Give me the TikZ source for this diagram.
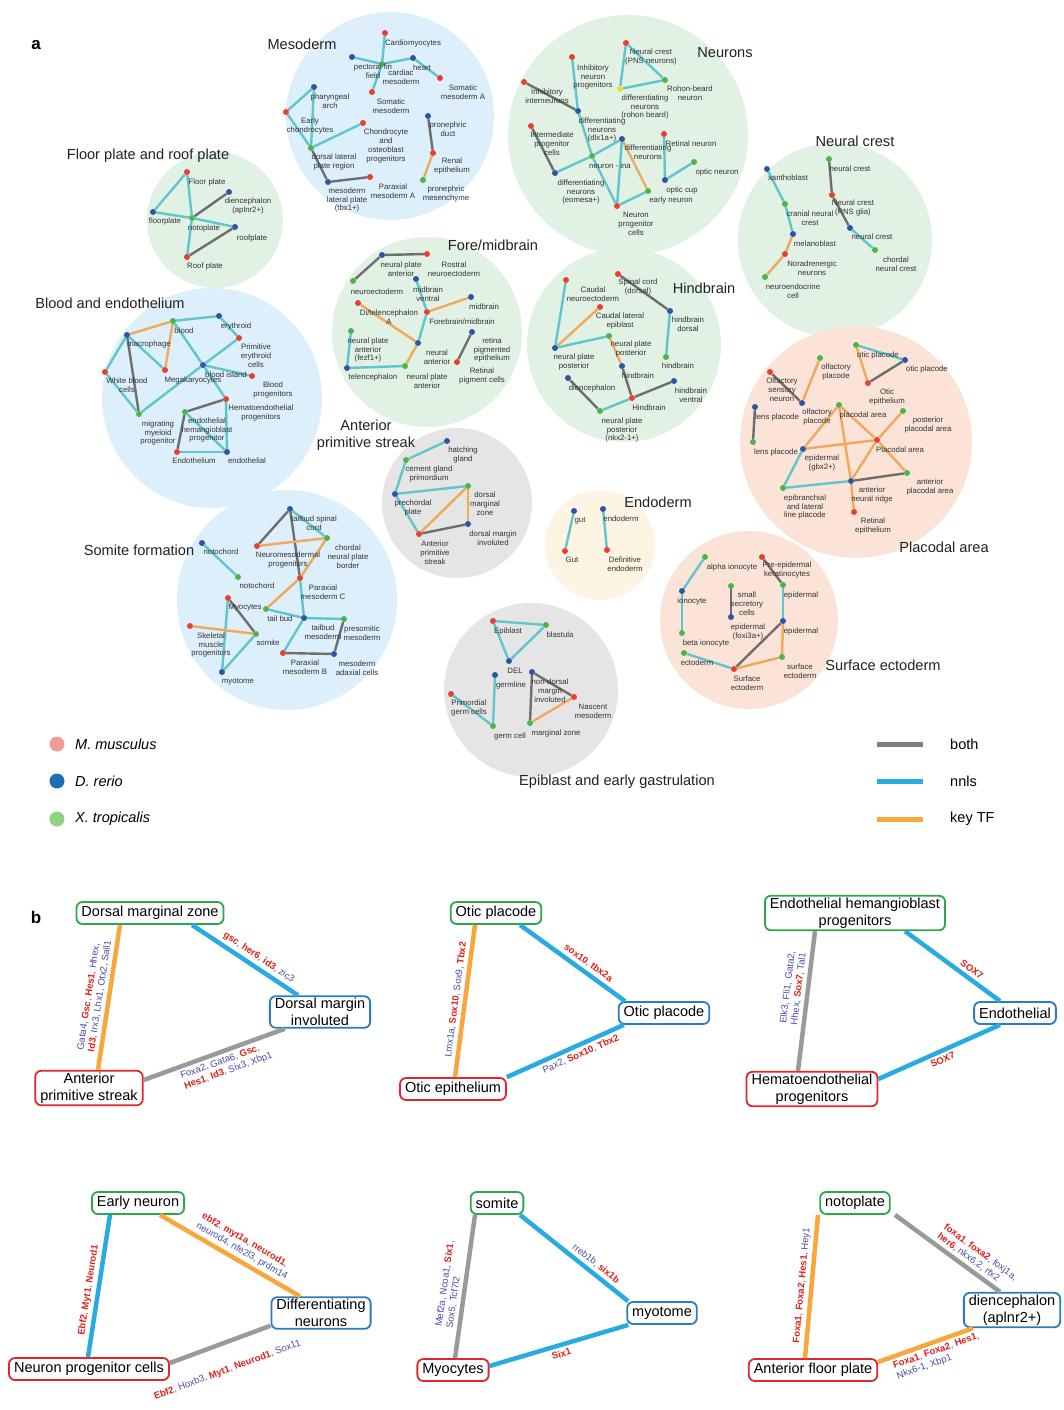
\documentclass[tikz,border=0pt]{standalone}
\usepackage{fontspec}
\setmainfont{Liberation Sans}
\pgfdeclarelayer{bgl}\pgfdeclarelayer{circ}\pgfdeclarelayer{edges}
\pgfsetlayers{bgl,circ,edges,main}
\definecolor{cR}{HTML}{E8402F}
\definecolor{cB}{HTML}{2F54A3}
\definecolor{cG}{HTML}{4DB44A}
\definecolor{cY}{HTML}{E6E02A}
\definecolor{eTe}{HTML}{5EC6CC}
\definecolor{eGr}{HTML}{6E6E6E}
\definecolor{eOr}{HTML}{F0A95A}
\definecolor{bgBlue}{HTML}{DDEFFA}
\definecolor{bgGreen}{HTML}{E1F1E4}
\definecolor{bgGrey}{HTML}{E5E5E5}
\definecolor{bgPeach}{HTML}{FBE3D8}
\definecolor{bgCream}{HTML}{FEF4E3}
\definecolor{labc}{HTML}{333333}
\definecolor{ttlc}{HTML}{222222}
\definecolor{lgBoth}{HTML}{808080}
\definecolor{lgNnls}{HTML}{29ABE2}
\definecolor{lgKey}{HTML}{F7A73C}
\definecolor{lgMm}{HTML}{F29B9B}
\definecolor{lgDr}{HTML}{1F6FB4}
\definecolor{lgXt}{HTML}{90D283}
\definecolor{bxG}{HTML}{2BA84A}
\definecolor{bxB}{HTML}{2B7BBF}
\definecolor{bxR}{HTML}{E4262B}
\definecolor{tBlue}{HTML}{4B4BA8}
\definecolor{tRed}{HTML}{E0201A}
\definecolor{lnGrey}{HTML}{9A9A9A}
\newcommand\mkdot[3]{\node[#2] (#1) at (#3) {};}
\newcommand\mklab[3]{\node[lab] (#1) at (#2) {#3};}
\newcommand\mkedge[3]{\draw[#1] (#2) -- (#3);}
\newcommand\ktf[1]{\textcolor{tRed}{\textbf{#1}}}
\tikzset{
 dotn/.style={circle,inner sep=0pt,minimum size=6pt,draw=none},
 rd/.style={dotn,fill=cR}, bd/.style={dotn,fill=cB}, gd/.style={dotn,fill=cG}, yd/.style={dotn,fill=cY},
 lab/.style={font=\fontsize{7.8}{8.8}\selectfont, align=center, inner sep=0pt, text=labc},
 ttl/.style={font=\fontsize{14.6}{17}\selectfont, inner sep=0pt, text=ttlc, align=center},
 ete/.style={draw=eTe, line width=2.4pt},
 egr/.style={draw=eGr, line width=2.4pt},
 eor/.style={draw=eOr, line width=2.4pt},
 bbox/.style={draw, rounded corners=6pt, line width=1.8pt, fill=white, inner xsep=5pt, inner ysep=2pt, minimum height=22pt, align=center, font=\fontsize{14.5}{17}\selectfont, text=black},
 gbox/.style={bbox, draw=bxG}, blbox/.style={bbox, draw=bxB}, rbox/.style={bbox, draw=bxR},
 blte/.style={draw=lgNnls, line width=4.5pt},
 blgr/.style={draw=lnGrey, line width=4.5pt},
 blor/.style={draw=lgKey, line width=4.5pt},
 elab/.style={font=\fontsize{9.5}{11}\selectfont, text=tBlue, inner sep=3pt, sloped},
 legl/.style={line width=5pt}
}
\begin{document}
\begin{tikzpicture}[x=1pt,y=-1pt]
\useasboundingbox (0,0) rectangle (1064,1410);
\begin{pgfonlayer}{bgl}
\fill[white] (0,0) rectangle (1064,1410);
\end{pgfonlayer}
% ---------------- bubbles
\begin{pgfonlayer}{circ}
\fill[bgBlue] (390,116) circle (104);
\fill[bgGreen] (628,135) circle (120);
\fill[bgGreen] (835,240) circle (97);
\fill[bgGreen] (215,220) circle (68);
\fill[bgGreen] (427,332) circle (95);
\fill[bgGreen] (624,345) circle (97);
\fill[bgBlue] (212,398) circle (110);
\fill[bgPeach] (856,442) circle (116);
\fill[bgGrey] (457,503) circle (75);
\fill[bgCream] (600,545) circle (55);
\fill[bgBlue] (287,600) circle (110);
\fill[bgPeach] (749,620) circle (89);
\fill[bgGrey] (531,690) circle (87);
\end{pgfonlayer}
% ---------------- titles
\node[font=\bfseries\fontsize{17}{20}\selectfont, inner sep=0pt] (pa) at (36,45) {a};
\node[ttl] (tMeso) at (302,44) {Mesoderm};
\node[ttl] (tNeur) at (725,53) {Neurons};
\node[ttl] (tNC) at (855,141) {Neural crest};
\node[ttl] (tFP) at (148,156) {Floor plate and roof plate};
\node[ttl] (tFM) at (493,245) {Fore/midbrain};
\node[ttl] (tHB) at (704,288) {Hindbrain};
\node[ttl] (tBE) at (110,303) {Blood and endothelium};
\node[ttl] (tAPS) at (366,435) {Anterior\\primitive streak};
\node[ttl] (tEn) at (658,502) {Endoderm};
\node[ttl] (tPl) at (944,547) {Placodal area};
\node[ttl] (tSo) at (139,550) {Somite formation};
\node[ttl] (tSE) at (883,665) {Surface ectoderm};
\node[ttl] (tEp) at (617,782) {Epiblast and early gastrulation};
% ---------------- Mesoderm
\mkdot{M1}{rd}{385,33} \mkdot{M2}{bd}{352,57} \mkdot{M3}{gd}{382,64} \mkdot{M4}{bd}{413,58}
\mkdot{M5}{rd}{440,78} \mkdot{M6}{rd}{372,92} \mkdot{M7}{bd}{314,87} \mkdot{M8}{rd}{286,112}
\mkdot{M9}{gd}{311,148} \mkdot{M10}{rd}{363,123} \mkdot{M11}{bd}{328,182} \mkdot{M12}{rd}{370,177}
\mkdot{M13}{bd}{428,116} \mkdot{M14}{rd}{433,153} \mkdot{M15}{gd}{423,180}
\mklab{lM1}{413,43}{Cardiomyocytes}
\mklab{lM2}{373,71}{pectoral fin\\field}
\mklab{lM3}{401,77}{cardiac\\mesoderm}
\mklab{lM4}{422,68}{heart}
\mklab{lM5}{463,92}{Somatic\\mesoderm A}
\mklab{lM6}{391,106}{Somatic\\mesoderm}
\mklab{lM7}{330,101}{pharyngeal\\arch}
\mklab{lM8}{310,126}{Early\\chondrocytes}
\mklab{lM9}{334,162}{dorsal lateral\\plate region}
\mklab{lM10}{386,146}{Chondrocyte\\and\\osteoblast\\progenitors}
\mklab{lM11}{347,200}{mesoderm\\lateral plate\\(tbx1+)}
\mklab{lM12}{393,191}{Paraxial\\mesoderm A}
\mklab{lM13}{448,129}{pronephric\\duct}
\mklab{lM14}{452,166}{Renal\\epithelium}
\mklab{lM15}{446,194}{pronephric\\mesenchyme}
% ---------------- Neurons
\mkdot{N1}{rd}{626,43} \mkdot{N2}{gd}{665,80} \mkdot{N3}{yd}{620,89} \mkdot{N4}{rd}{572,57}
\mkdot{N5}{rd}{524,82} \mkdot{N6}{bd}{578,111} \mkdot{N7}{rd}{531,126} \mkdot{N8}{gd}{592,156}
\mkdot{N9}{bd}{622,139} \mkdot{N10}{bd}{555,173} \mkdot{N11}{rd}{617,206} \mkdot{N12}{gd}{648,191}
\mkdot{N13}{rd}{664,134} \mkdot{N14}{bd}{665,180} \mkdot{N15}{gd}{694,162}
\mklab{lN1}{651,57}{Neural crest\\(PNS neurons)}
\mklab{lN2}{690,93}{Rohon-beard\\neuron}
\mklab{lN3}{645,107}{differentiating\\neurons\\(rohon beard)}
\mklab{lN4}{593,77}{Inhibitory\\neuron\\progenitors}
\mklab{lN5}{547,96}{Inhibitory\\interneurons}
\mklab{lN6}{602,130}{differentiating\\neurons\\(dlx1a+)}
\mklab{lN7}{552,144}{Intermediate\\progenitor\\cells}
\mklab{lN8}{610,166}{neuron - ina}
\mklab{lN9}{648,152}{differentiating\\neurons}
\mklab{lN10}{581,192}{differentiating\\neurons\\(eomesa+)}
\mklab{lN11}{636,224}{Neuron\\progenitor\\cells}
\mklab{lN12}{671,200}{early neuron}
\mklab{lN13}{691,144}{Retinal neuron}
\mklab{lN14}{682,190}{optic cup}
\mklab{lN15}{717,172}{optic neuron}
% ---------------- Neural crest
\mkdot{C1}{gd}{829,159} \mkdot{C2}{rd}{832,195} \mkdot{C3}{bd}{850,228} \mkdot{C4}{gd}{875,250}
\mkdot{C5}{bd}{767,169} \mkdot{C6}{gd}{785,204} \mkdot{C7}{bd}{793,234} \mkdot{C8}{rd}{785,254}
\mkdot{C9}{gd}{765,277}
\mklab{lC1}{850,169}{neural crest}
\mklab{lC2}{853,208}{Neural crest\\(PNS glia)}
\mklab{lC3}{872,237}{neural crest}
\mklab{lC4}{896,264}{chordal\\neural crest}
\mklab{lC5}{788,178}{xanthoblast}
\mklab{lC6}{810,218}{cranial neural\\crest}
\mklab{lC7}{815,244}{melanoblast}
\mklab{lC8}{812,268}{Noradrenergic\\neurons}
\mklab{lC9}{793,291}{neuroendocrine\\cell}
% ---------------- Floor plate
\mkdot{F1}{rd}{187,172} \mkdot{F2}{bd}{153,212} \mkdot{F3}{gd}{192,218} \mkdot{F4}{bd}{229,192}
\mkdot{F5}{bd}{235,227} \mkdot{F6}{rd}{187,257}
\mklab{lF1}{207,182}{Floor plate}
\mklab{lF2}{165,221}{floorplate}
\mklab{lF3}{204,228}{notoplate}
\mklab{lF4}{248,206}{diencephalon\\(aplnr2+)}
\mklab{lF5}{252,238}{roofplate}
\mklab{lF6}{205,266}{Roof plate}
% ---------------- Fore/midbrain
\mkdot{D1}{bd}{382,255} \mkdot{D2}{rd}{427,254} \mkdot{D3}{gd}{353,281} \mkdot{D4}{bd}{416,279}
\mkdot{D5}{bd}{471,297} \mkdot{D6}{rd}{358,303} \mkdot{D7}{rd}{427,312} \mkdot{D8}{gd}{351,331}
\mkdot{D9}{bd}{418,343} \mkdot{D10}{bd}{472,332} \mkdot{D11}{rd}{457,362} \mkdot{D12}{bd}{347,368}
\mkdot{D13}{gd}{405,366}
\mklab{lD1}{401,269}{neural plate\\anterior}
\mklab{lD2}{454,269}{Rostral\\neuroectoderm}
\mklab{lD3}{377,292}{neuroectoderm}
\mklab{lD4}{428,294}{midbrain\\ventral}
\mklab{lD5}{484,307}{midbrain}
\mklab{lD6}{389,317}{Di/telencephalon\\A}
\mklab{lD7}{462,322}{Forebrain/midbrain}
\mklab{lD8}{368,350}{neural plate\\anterior\\(fezf1+)}
\mklab{lD9}{437,357}{neural\\anterior}
\mklab{lD10}{492,350}{retina\\pigmented\\epithelium}
\mklab{lD11}{482,376}{Retinal\\pigment cells}
\mklab{lD12}{373,377}{telencephalon}
\mklab{lD13}{427,381}{neural plate\\anterior}
% ---------------- Hindbrain
\mkdot{H1}{rd}{566,280} \mkdot{H2}{rd}{618,274} \mkdot{H3}{bd}{670,311} \mkdot{H4}{rd}{600,307}
\mkdot{H5}{gd}{609,336} \mkdot{H6}{bd}{555,348} \mkdot{H7}{gd}{666,357} \mkdot{H8}{bd}{622,366}
\mkdot{H9}{bd}{568,378} \mkdot{H10}{bd}{674,381} \mkdot{H11}{rd}{632,398} \mkdot{H12}{gd}{600,411}
\mklab{lH1}{593,294}{Caudal\\neuroectoderm}
\mklab{lH2}{638,287}{Spinal cord\\(dorsal)}
\mklab{lH3}{688,324}{hindbrain\\dorsal}
\mklab{lH4}{620,321}{Caudal lateral\\epiblast}
\mklab{lH5}{631,349}{neural plate\\posterior}
\mklab{lH6}{574,362}{neural plate\\posterior}
\mklab{lH7}{678,366}{hindbrain}
\mklab{lH8}{638,376}{hindbrain}
\mklab{lH9}{592,388}{diencephalon}
\mklab{lH10}{691,395}{hindbrain\\ventral}
\mklab{lH11}{649,408}{Hindbrain}
\mklab{lH12}{622,430}{neural plate\\posterior\\(nkx2-1+)}
% ---------------- Blood
\mkdot{B1}{gd}{173,321} \mkdot{B2}{bd}{219,316} \mkdot{B3}{bd}{127,335} \mkdot{B4}{rd}{239,338}
\mkdot{B5}{rd}{165,370} \mkdot{B6}{bd}{203,365} \mkdot{B7}{rd}{252,376} \mkdot{B8}{rd}{105,372}
\mkdot{B9}{rd}{226,399} \mkdot{B10}{gd}{139,414} \mkdot{B11}{gd}{185,412} \mkdot{B12}{rd}{177,452}
\mkdot{B13}{bd}{227,452}
\mklab{lB1}{184,331}{blood}
\mklab{lB2}{236,326}{erythroid}
\mklab{lB3}{149,344}{macrophage}
\mklab{lB4}{256,356}{Primitive\\erythroid\\cells}
\mklab{lB5}{193,380}{Megakaryocytes}
\mklab{lB6}{226,375}{blood island}
\mklab{lB7}{273,390}{Blood\\progenitors}
\mklab{lB8}{127,385}{White blood\\cells}
\mklab{lB9}{261,413}{Hematoendothelial\\progenitors}
\mklab{lB10}{158,433}{migrating\\myeloid\\progenitor}
\mklab{lB11}{207,430}{endothelial\\hemangioblast\\progenitor}
\mklab{lB12}{194,461}{Endothelium}
\mklab{lB13}{247,461}{endothelial}
% ---------------- Placodal
\mkdot{P1}{gd}{856,345} \mkdot{P2}{bd}{905,360} \mkdot{P3}{rd}{868,383} \mkdot{P4}{gd}{820,358}
\mkdot{P5}{rd}{770,372} \mkdot{P6}{bd}{802,403} \mkdot{P7}{bd}{755,407} \mkdot{P8}{gd}{753,442}
\mkdot{P9}{gd}{839,405} \mkdot{P10}{gd}{903,411} \mkdot{P11}{rd}{877,440} \mkdot{P12}{bd}{803,449}
\mkdot{P13}{gd}{907,473} \mkdot{P14}{bd}{851,481} \mkdot{P15}{gd}{783,488} \mkdot{P16}{rd}{854,512}
\mklab{lP1}{878,355}{otic placode}
\mklab{lP2}{927,369}{otic placode}
\mklab{lP3}{887,397}{Otic\\epithelium}
\mklab{lP4}{836,372}{olfactory\\placode}
\mklab{lP5}{782,390}{Olfactory\\sensory\\neuron}
\mklab{lP6}{817,417}{olfactory\\placode}
\mklab{lP7}{777,417}{lens placode}
\mklab{lP8}{776,452}{lens placode}
\mklab{lP9}{863,415}{placodal area}
\mklab{lP10}{928,425}{posterior\\placodal area}
\mklab{lP11}{900,450}{Placodal area}
\mklab{lP12}{822,463}{epidermal\\(gbx2+)}
\mklab{lP13}{930,487}{anterior\\placodal area}
\mklab{lP14}{872,495}{anterior\\neural ridge}
\mklab{lP15}{805,507}{epibranchial\\and lateral\\line placode}
\mklab{lP16}{873,526}{Retinal\\epithelium}
% ---------------- Anterior primitive streak
\mkdot{A1}{bd}{447,441} \mkdot{A2}{gd}{406,460} \mkdot{A3}{gd}{468,486} \mkdot{A4}{bd}{395,494}
\mkdot{A5}{bd}{468,524} \mkdot{A6}{rd}{419,534}
\mklab{lA1}{463,455}{hatching\\gland}
\mklab{lA2}{429,474}{cement gland\\primordium}
\mklab{lA3}{485,504}{dorsal\\marginal\\zone}
\mklab{lA4}{413,508}{prechordal\\plate}
\mklab{lA5}{493,538}{dorsal margin\\involuted}
\mklab{lA6}{435,553}{Anterior\\primitive\\streak}
% ---------------- Endoderm
\mkdot{E1}{bd}{574,511} \mkdot{E2}{rd}{565,551} \mkdot{E3}{bd}{603,509} \mkdot{E4}{rd}{607,550}
\mklab{lE1}{580,521}{gut}
\mklab{lE2}{572,560}{Gut}
\mklab{lE3}{621,519}{endoderm}
\mklab{lE4}{625,564}{Definitive\\endoderm}
% ---------------- Somite
\mkdot{S1}{bd}{290,509} \mkdot{S2}{gd}{327,538} \mkdot{S3}{rd}{257,546} \mkdot{S4}{bd}{202,543}
\mkdot{S5}{gd}{238,577} \mkdot{S6}{rd}{300,578} \mkdot{S7}{rd}{228,598} \mkdot{S8}{gd}{266,609}
\mkdot{S9}{bd}{304,618} \mkdot{S10}{gd}{344,619} \mkdot{S11}{rd}{190,626} \mkdot{S12}{gd}{256,634}
\mkdot{S13}{rd}{283,653} \mkdot{S14}{bd}{334,654} \mkdot{S15}{bd}{222,672}
\mklab{lS1}{314,523}{tailbud spinal\\cord}
\mklab{lS2}{348,557}{chordal\\neural plate\\border}
\mklab{lS3}{288,560}{Neuromesodermal\\progenitors}
\mklab{lS4}{221,552}{notochord}
\mklab{lS5}{257,586}{notochord}
\mklab{lS6}{323,592}{Paraxial\\mesoderm C}
\mklab{lS7}{245,608}{Myocytes}
\mklab{lS8}{280,619}{tail bud}
\mklab{lS9}{323,632}{tailbud\\mesoderm}
\mklab{lS10}{362,633}{presomitic\\mesoderm}
\mklab{lS11}{211,645}{Skeletal\\muscle\\progenitors}
\mklab{lS12}{268,643}{somite}
\mklab{lS13}{305,667}{Paraxial\\mesoderm B}
\mklab{lS14}{357,668}{mesoderm\\adaxial cells}
\mklab{lS15}{238,682}{myotome}
% ---------------- Surface ectoderm
\mkdot{U1}{gd}{705,557} \mkdot{U2}{bd}{682,591} \mkdot{U3}{gd}{682,633} \mkdot{U4}{gd}{684,653}
\mkdot{U5}{rd}{734,669} \mkdot{U6}{rd}{762,557} \mkdot{U7}{gd}{783,585} \mkdot{U8}{bd}{783,621}
\mkdot{U9}{gd}{731,586} \mkdot{U10}{bd}{731,617} \mkdot{U11}{gd}{782,657}
\mklab{lU1}{732,567}{alpha ionocyte}
\mklab{lU2}{692,601}{ionocyte}
\mklab{lU3}{706,643}{beta ionocyte}
\mklab{lU4}{697,663}{ectoderm}
\mklab{lU5}{747,683}{Surface\\ectoderm}
\mklab{lU6}{787,570}{Pre-epidermal\\keratinocytes}
\mklab{lU7}{801,595}{epidermal}
\mklab{lU8}{801,631}{epidermal}
\mklab{lU9}{747,604}{small\\secretory\\cells}
\mklab{lU10}{748,632}{epidermal\\(foxi3a+)}
\mklab{lU11}{800,671}{surface\\ectoderm}
% ---------------- Epiblast
\mkdot{G1}{rd}{493,621} \mkdot{G2}{gd}{546,625} \mkdot{G3}{bd}{509,661} \mkdot{G4}{bd}{495,675}
\mkdot{G5}{bd}{532,672} \mkdot{G6}{rd}{574,697} \mkdot{G7}{rd}{451,694} \mkdot{G8}{gd}{493,726}
\mkdot{G9}{gd}{530,723}
\mklab{lG1}{508,631}{Epiblast}
\mklab{lG2}{560,635}{blastula}
\mklab{lG3}{515,671}{DEL}
\mklab{lG4}{511,685}{germline}
\mklab{lG5}{550,691}{non-dorsal\\margin\\involuted}
\mklab{lG6}{593,711}{Nascent\\mesoderm}
\mklab{lG7}{469,708}{Primordial\\germ cells}
\mklab{lG8}{510,736}{germ cell}
\mklab{lG9}{556,733}{marginal zone}
% ---------------- edges (part a)
\begin{pgfonlayer}{edges}
\mkedge{ete}{M1}{M3} \mkedge{ete}{M2}{M3} \mkedge{ete}{M3}{M4} \mkedge{ete}{M4}{M5} \mkedge{ete}{M3}{M6}
\mkedge{ete}{M7}{M8} \mkedge{ete}{M7}{M9} \mkedge{ete}{M8}{M9} \mkedge{ete}{M10}{M9}
\mkedge{egr}{M9}{M11} \mkedge{egr}{M11}{M12} \mkedge{egr}{M13}{M14} \mkedge{eor}{M14}{M15}
\mkedge{ete}{N1}{N3} \mkedge{ete}{N1}{N2} \mkedge{ete}{N3}{N2} \mkedge{ete}{N4}{N6} \mkedge{egr}{N5}{N6}
\mkedge{ete}{N6}{N8} \mkedge{ete}{N8}{N9} \mkedge{ete}{N8}{N10} \mkedge{egr}{N7}{N10} \mkedge{ete}{N8}{N11}
\mkedge{ete}{N9}{N11} \mkedge{eor}{N9}{N12} \mkedge{ete}{N11}{N12} \mkedge{ete}{N13}{N14} \mkedge{ete}{N14}{N15}
\mkedge{egr}{C1}{C2} \mkedge{egr}{C2}{C3} \mkedge{ete}{C3}{C4} \mkedge{ete}{C5}{C6} \mkedge{ete}{C6}{C7}
\mkedge{eor}{C7}{C8} \mkedge{eor}{C8}{C9}
\mkedge{ete}{F1}{F2} \mkedge{ete}{F1}{F3} \mkedge{ete}{F2}{F3} \mkedge{ete}{F3}{F5} \mkedge{egr}{F3}{F4}
\mkedge{ete}{F3}{F6} \mkedge{egr}{F5}{F6}
\mkedge{egr}{D1}{D2} \mkedge{egr}{D1}{D3} \mkedge{ete}{D4}{D7} \mkedge{eor}{D7}{D5} \mkedge{eor}{D6}{D9}
\mkedge{ete}{D7}{D9} \mkedge{eor}{D9}{D13} \mkedge{ete}{D8}{D12} \mkedge{ete}{D12}{D13} \mkedge{egr}{D10}{D11}
\mkedge{ete}{H1}{H6} \mkedge{eor}{H4}{H6} \mkedge{ete}{H6}{H5} \mkedge{eor}{H5}{H8} \mkedge{egr}{H2}{H3}
\mkedge{ete}{H3}{H7} \mkedge{egr}{H8}{H11} \mkedge{egr}{H11}{H10} \mkedge{egr}{H9}{H12} \mkedge{ete}{H12}{H11}
\mkedge{eor}{B3}{B1} \mkedge{ete}{B1}{B2} \mkedge{ete}{B2}{B4} \mkedge{ete}{B4}{B6} \mkedge{ete}{B1}{B6}
\mkedge{eor}{B1}{B5} \mkedge{ete}{B3}{B5} \mkedge{ete}{B3}{B8} \mkedge{egr}{B3}{B10} \mkedge{ete}{B8}{B10}
\mkedge{ete}{B10}{B6} \mkedge{ete}{B6}{B7} \mkedge{ete}{B6}{B9} \mkedge{egr}{B9}{B11} \mkedge{egr}{B11}{B12}
\mkedge{ete}{B12}{B13} \mkedge{ete}{B9}{B13} \mkedge{ete}{B11}{B13}
\mkedge{ete}{P1}{P2} \mkedge{eor}{P1}{P3} \mkedge{egr}{P2}{P3} \mkedge{eor}{P4}{P6} \mkedge{egr}{P5}{P6}
\mkedge{egr}{P7}{P8} \mkedge{eor}{P9}{P12} \mkedge{eor}{P9}{P11} \mkedge{eor}{P9}{P14} \mkedge{eor}{P10}{P11}
\mkedge{eor}{P12}{P11} \mkedge{eor}{P11}{P13} \mkedge{eor}{P11}{P14} \mkedge{ete}{P12}{P15} \mkedge{ete}{P15}{P14}
\mkedge{egr}{P14}{P13} \mkedge{eor}{P14}{P16}
\mkedge{ete}{A1}{A2} \mkedge{ete}{A2}{A4} \mkedge{ete}{A4}{A3} \mkedge{ete}{A4}{A6} \mkedge{eor}{A6}{A3}
\mkedge{eor}{A3}{A5} \mkedge{egr}{A6}{A5}
\mkedge{ete}{E1}{E2} \mkedge{ete}{E3}{E4}
\mkedge{ete}{S1}{S2} \mkedge{egr}{S1}{S3} \mkedge{egr}{S1}{S6} \mkedge{eor}{S3}{S2} \mkedge{eor}{S2}{S6}
\mkedge{eor}{S6}{S8} \mkedge{ete}{S6}{S9} \mkedge{ete}{S4}{S5} \mkedge{ete}{S7}{S15} \mkedge{egr}{S7}{S12}
\mkedge{eor}{S11}{S12} \mkedge{ete}{S12}{S15} \mkedge{ete}{S8}{S9} \mkedge{ete}{S9}{S10} \mkedge{ete}{S9}{S13}
\mkedge{egr}{S10}{S14} \mkedge{egr}{S13}{S14}
\mkedge{ete}{U1}{U2} \mkedge{ete}{U2}{U3} \mkedge{ete}{U4}{U5} \mkedge{egr}{U6}{U7} \mkedge{ete}{U7}{U8}
\mkedge{egr}{U8}{U5} \mkedge{eor}{U8}{U11} \mkedge{eor}{U5}{U11} \mkedge{egr}{U9}{U10}
\mkedge{ete}{G1}{G2} \mkedge{ete}{G1}{G3} \mkedge{ete}{G2}{G3} \mkedge{ete}{G4}{G8} \mkedge{ete}{G7}{G8}
\mkedge{egr}{G5}{G6} \mkedge{egr}{G5}{G9} \mkedge{eor}{G9}{G6}
\end{pgfonlayer}
% ---------------- legend
\node[circle, fill=lgMm, minimum size=15pt, inner sep=0pt] (kMm) at (57,744) {};
\node[circle, fill=lgDr, minimum size=15pt, inner sep=0pt] (kDr) at (57,781) {};
\node[circle, fill=lgXt, minimum size=15pt, inner sep=0pt] (kXt) at (57,819) {};
\node[anchor=west, font=\itshape\fontsize{14.5}{17}\selectfont, inner sep=0pt] (kMmT) at (75,744) {M. musculus};
\node[anchor=west, font=\itshape\fontsize{14.5}{17}\selectfont, inner sep=0pt] (kDrT) at (75,781) {D. rerio};
\node[anchor=west, font=\itshape\fontsize{14.5}{17}\selectfont, inner sep=0pt] (kXtT) at (75,819) {X. tropicalis};
\coordinate (kL1a) at (877,744); \coordinate (kL1b) at (923,744);
\coordinate (kL2a) at (877,781); \coordinate (kL2b) at (923,781);
\coordinate (kL3a) at (877,819); \coordinate (kL3b) at (923,819);
\draw[legl, draw=lgBoth] (kL1a) -- (kL1b);
\draw[legl, draw=lgNnls] (kL2a) -- (kL2b);
\draw[legl, draw=lgKey] (kL3a) -- (kL3b);
\node[anchor=west, font=\fontsize{14.5}{17}\selectfont, inner sep=0pt] (kT1) at (950,744) {both};
\node[anchor=west, font=\fontsize{14.5}{17}\selectfont, inner sep=0pt] (kT2) at (950,781) {nnls};
\node[anchor=west, font=\fontsize{14.5}{17}\selectfont, inner sep=0pt] (kT3) at (950,819) {key TF};
% ================= part b
\node[font=\bfseries\fontsize{17}{20}\selectfont, inner sep=0pt] (pb) at (36,917) {b};
% panel 1
\node[gbox] (b1g) at (150,913) {Dorsal marginal zone};
\node[blbox] (b1b) at (320,1012) {Dorsal margin\\involuted};
\node[rbox] (b1r) at (89,1088) {Anterior\\primitive streak};
\draw[blor] ([xshift=-30pt]b1g.south) -- node[elab, above, pos=0.5, align=left] (t1a) {Gata4, \ktf{Gsc}, \ktf{Hes1}, Hhex,\\\ktf{Id3}, Irx3, Lhx1, Otx2, Sall1} ([xshift=9pt]b1r.north);
\draw[blte] ([xshift=42pt]b1g.south) -- node[elab, above, pos=0.58] (t1b) {\ktf{gsc}, \ktf{her6}, \ktf{id3}, zic3} ([xshift=-22pt]b1b.north);
\draw[blgr] ([yshift=8pt]b1r.east) -- node[elab, below, pos=0.55, align=left] (t1c) {Foxa2, Gata6, \ktf{Gsc},\\\ktf{Hes1}, \ktf{Id3}, Six3, Xbp1} ([xshift=-35pt]b1b.south);
% panel 2
\node[gbox] (b2g) at (496,913) {Otic placode};
\node[blbox] (b2b) at (664,1013) {Otic placode};
\node[rbox] (b2r) at (453,1089) {Otic epithelium};
\draw[blor] ([xshift=-21pt]b2g.south) -- node[elab, above, pos=0.5] (t2a) {Lmx1a, \ktf{Sox10}, Sox9, \ktf{Tbx2}} ([xshift=2pt]b2r.north);
\draw[blte] ([xshift=24pt]b2g.south) -- node[elab, above, pos=0.6] (t2b) {\ktf{sox10}, \ktf{tbx2a}} ([xshift=-39pt]b2b.north);
\draw[blte] (b2r.north east) -- node[elab, below, pos=0.6] (t2c) {Pax2, \ktf{Sox10}, \ktf{Tbx2}} ([xshift=6pt]b2b.south west);
% panel 3
\node[gbox] (b3g) at (855,913) {Endothelial hemangioblast\\progenitors};
\node[blbox] (b3b) at (1015,1013) {Endothelial};
\node[rbox] (b3r) at (812,1089) {Hematoendothelial\\progenitors};
\draw[blgr] ([xshift=-40pt]b3g.south) -- node[elab, above, pos=0.42, align=left] (t3a) {Elk3, Fli1, Gata2,\\Hhex, \ktf{Sox7}, Tal1} ([xshift=-14pt]b3r.north);
\draw[blte] ([xshift=50pt]b3g.south) -- node[elab, above, pos=0.65] (t3b) {\ktf{SOX7}} ([xshift=-15pt]b3b.north);
\draw[blte] ([yshift=10pt]b3r.east) -- node[elab, below, pos=0.5] (t3c) {\ktf{SOX7}} ([xshift=-15pt]b3b.south);
% panel 4
\node[gbox] (b4g) at (138,1203) {Early neuron};
\node[blbox] (b4b) at (321,1313) {Differentiating\\neurons};
\node[rbox] (b4r) at (89,1369) {Neuron progenitor cells};
\draw[blte] ([xshift=-28pt]b4g.south) -- node[elab, above, pos=0.54] (t4a) {\ktf{Ebf2}, \ktf{Myt1}, \ktf{Neurod1}} ([xshift=-1pt]b4r.north);
\draw[blor] ([xshift=22pt]b4g.south) -- node[elab, above, pos=0.55, align=left] (t4b) {\ktf{ebf2}, \ktf{myt1a}, \ktf{neurod1},\\neurod4, nfe2l3, prdm14} ([xshift=-21pt]b4b.north);
\draw[blgr] ([yshift=6pt]b4r.east) -- node[elab, below=17pt, pos=0.48] (t4c) {\ktf{Ebf2}, Hoxb3, \ktf{Myt1}, \ktf{Neurod1}, Sox11} ([yshift=4pt]b4b.south west);
% panel 5
\node[gbox] (b5g) at (497,1203) {somite};
\node[blbox] (b5b) at (662,1313) {myotome};
\node[rbox] (b5r) at (453,1370) {Myocytes};
\draw[blgr] ([xshift=-22pt]b5g.south) -- node[elab, above, pos=0.5, align=left] (t5a) {Mef2a, Ncoa1, \ktf{Six1},\\Sox5, Tcf7l2} ([xshift=2pt]b5r.north);
\draw[blte] ([xshift=23pt]b5g.south) -- node[elab, above, pos=0.65] (t5b) {rreb1b, \ktf{six1b}} ([xshift=-34pt]b5b.north);
\draw[blte] ([yshift=4pt]b5r.east) -- node[elab, below, pos=0.5] (t5c) {\ktf{Six1}} ([xshift=2pt]b5b.south west);
% panel 6
\node[gbox] (b6g) at (855,1203) {notoplate};
\node[blbox] (b6b) at (1012,1310) {diencephalon\\(aplnr2+)};
\node[rbox] (b6r) at (813,1370) {Anterior floor plate};
\draw[blor] ([xshift=-37pt]b6g.south) -- node[elab, above, pos=0.5] (t6a) {\ktf{Foxa1}, \ktf{Foxa2}, \ktf{Hes1}, Hey1} ([xshift=-8pt]b6r.north);
\draw[blgr] ([xshift=40pt]b6g.south) -- node[elab, above, pos=0.7, align=left] (t6b) {\ktf{foxa1}, \ktf{foxa2}, foxj1a,\\\ktf{her6}, nkx6.2, rfx2} ([xshift=-12pt]b6b.north);
\draw[blor] ([yshift=8pt]b6r.east) -- node[elab, below, pos=0.58, align=left] (t6c) {\ktf{Foxa1}, \ktf{Foxa2}, \ktf{Hes1},\\Nkx6-1, Xbp1} ([xshift=10pt]b6b.south west);
\end{tikzpicture}
\end{document}
